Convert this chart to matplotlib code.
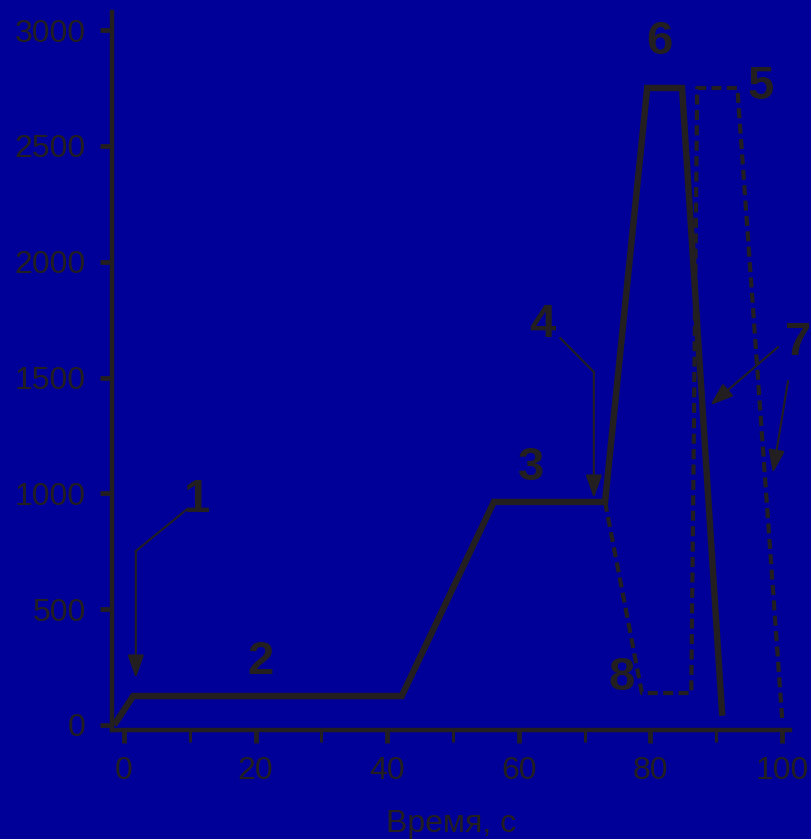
import matplotlib
matplotlib.use("Agg")
import matplotlib.pyplot as plt
from matplotlib import font_manager as fm

# ---- data ----
solid_t = [-1.5, 1.4, 42.2, 56.2, 73.1, 79.5, 84.8, 90.9]
solid_T = [0, 125, 125, 963, 963, 2750, 2750, 40]

dashed_t = [73.1, 78.7, 86.2, 87.1, 93.2, 100.0]
dashed_T = [963, 138, 138, 2750, 2750, 30]

x_ticks = [0, 20, 40, 60, 80, 100]
x_minor = [10, 30, 50, 70, 90]
y_ticks = [0, 500, 1000, 1500, 2000, 2500, 3000]
x_label = "Время, с"

# annotation labels: (text, x, y)
labels = [("1", 11.1, 971), ("2", 20.7, 272), ("3", 61.9, 1109), ("4", 63.5, 1727),
          ("5", 96.7, 2754), ("6", 81.3, 2948), ("7", 102.4, 1649), ("8", 75.7, 203)]
# arrows: polyline points, last point is the arrow tip
arrows = [
    [(9.6, 932), (1.8, 751), (1.8, 203)],
    [(66.3, 1670), (71.4, 1524), (71.4, 980)],
    [(99.4, 1632), (89.1, 1381)],
    [(100.9, 1485), (98.6, 1088)],
]

BG = "#000099"
FG = "#231F20"

plt.rcParams['font.family'] = ['Liberation Sans', 'DejaVu Sans']

# choose a condensed bold face for the curve numbers if available
num_props = dict(family=['Liberation Sans'], fontweight='bold')
try:
    p = fm.findfont(fm.FontProperties(family='Liberation Sans Narrow', weight='bold'),
                    fallback_to_default=False)
    if 'Narrow' in p:
        num_props = dict(family=['Liberation Sans Narrow'], fontweight='bold')
    else:
        p2 = fm.findfont(fm.FontProperties(family='DejaVu Sans', weight='bold',
                                           stretch='condensed'), fallback_to_default=False)
        if 'Condensed' in p2:
            num_props = dict(family=['DejaVu Sans'], fontweight='bold', fontstretch='condensed')
except Exception:
    pass

fig = plt.figure(figsize=(8.11, 8.39), dpi=100, facecolor=BG)
ax = fig.add_axes([112/811, 1-730/839, (790-112)/811, (730-12)/839])
ax.set_facecolor(BG)

ax.plot(solid_t, solid_T, color=FG, lw=4.6, solid_joinstyle='miter', solid_capstyle='butt', zorder=3)
ax.plot(dashed_t, dashed_T, color=FG, lw=3.0, dashes=(2.4, 1.3), zorder=2)

for pts in arrows:
    if len(pts) > 2:
        xs = [p[0] for p in pts[:-1]]
        ys = [p[1] for p in pts[:-1]]
        ax.plot(xs, ys, color=FG, lw=1.5, zorder=4)
    ax.annotate('', xy=pts[-1], xytext=pts[-2],
                arrowprops=dict(arrowstyle='-|>,head_length=1.4,head_width=0.5',
                                lw=1.5, color=FG, shrinkA=0, shrinkB=0,
                                mutation_scale=10), zorder=4)

for txt, x, y in labels:
    ax.text(x, y, txt, fontsize=34, color=FG, ha='center', va='center',
            zorder=5, clip_on=False, **num_props)

ax.set_xlim(-1.82, 101.2)
ax.set_ylim(-21.6, 3078)
ax.set_xticks(x_ticks)
ax.set_xticks(x_minor, minor=True)
ax.set_yticks(y_ticks)
ax.set_xticklabels([str(v) for v in x_ticks])
ax.set_yticklabels([str(v) for v in y_ticks])

for s in ['top', 'right']:
    ax.spines[s].set_visible(False)
for s in ['left', 'bottom']:
    ax.spines[s].set_color(FG)
    ax.spines[s].set_linewidth(3.2)

ax.tick_params(axis='both', which='major', colors=FG, labelcolor=FG, labelsize=23,
               length=9, width=3.4, direction='out', pad=10)
ax.tick_params(axis='x', which='minor', colors=FG, length=8.5, width=2.2, direction='out')
ax.set_xlabel(x_label, fontsize=23, color=FG, labelpad=16)

fig.savefig("out.png", dpi=100, facecolor=BG)
